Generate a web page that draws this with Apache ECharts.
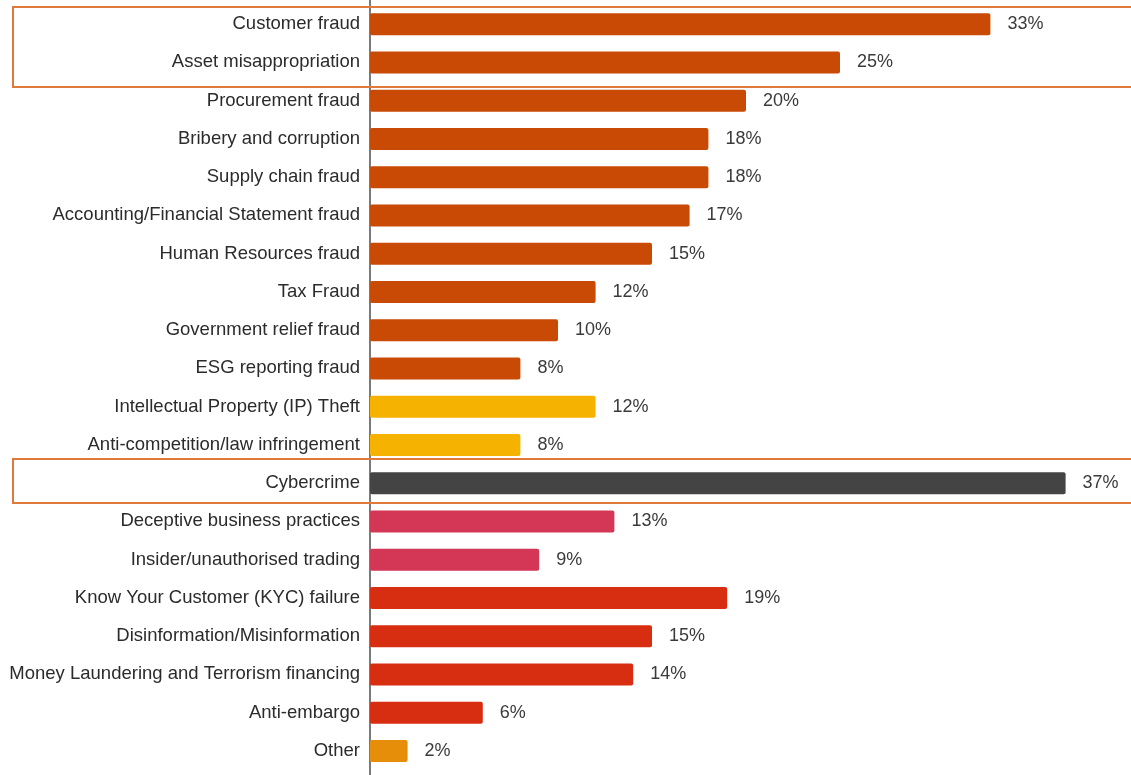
<!DOCTYPE html>
<html>
<head>
<meta charset="utf-8">
<script src="https://cdn.jsdelivr.net/npm/echarts@6/dist/echarts.min.js"></script>
<style>
  html, body { margin: 0; padding: 0; background: #fff; }
  #chart { width: 1131px; height: 775px; }
</style>
</head>
<body>
<div id="chart"></div>
<script>
const categories = [
  'Customer fraud', 'Asset misappropriation', 'Procurement fraud', 'Bribery and corruption',
  'Supply chain fraud', 'Accounting/Financial Statement fraud', 'Human Resources fraud',
  'Tax Fraud', 'Government relief fraud', 'ESG reporting fraud',
  'Intellectual Property (IP) Theft', 'Anti-competition/law infringement', 'Cybercrime',
  'Deceptive business practices', 'Insider/unauthorised trading',
  'Know Your Customer (KYC) failure', 'Disinformation/Misinformation',
  'Money Laundering and Terrorism financing', 'Anti-embargo', 'Other'
];
const values = [33, 25, 20, 18, 18, 17, 15, 12, 10, 8, 12, 8, 37, 13, 9, 19, 15, 14, 6, 2];
const groups = [
  'fraud', 'fraud', 'fraud', 'fraud', 'fraud', 'fraud', 'fraud', 'fraud', 'fraud', 'fraud',
  'ip', 'ip', 'cyber', 'conduct', 'conduct', 'financial', 'financial', 'financial', 'financial', 'other'
];

// colour per group
const groupColors = {
  fraud: '#C94A04',
  ip: '#F5B300',
  cyber: '#444444',
  conduct: '#D43655',
  financial: '#D72E12',
  other: '#E68E0A'
};

const chart = echarts.init(document.getElementById('chart'));

const option = {
  animation: false,
  grid: { left: 370, right: 9, top: 5, bottom: 5, containLabel: false },
  xAxis: {
    type: 'value',
    min: 0,
    max: 40,
    show: false
  },
  yAxis: {
    type: 'category',
    inverse: true,
    data: categories,
    axisLine: { show: true, lineStyle: { color: '#7a7a7a', width: 2 } },
    axisTick: { show: false },
    axisLabel: {
      margin: 10,
      fontFamily: 'Liberation Sans, Arial, sans-serif',
      fontSize: 18.5,
      color: '#2b2b2b'
    }
  },
  series: [
    {
      type: 'bar',
      barWidth: 22,
      data: values.map((v, i) => ({
        value: v,
        itemStyle: { color: groupColors[groups[i]], borderRadius: 2 }
      })),
      label: {
        show: true,
        position: 'right',
        distance: 17,
        formatter: '{c}%',
        fontFamily: 'Liberation Sans, Arial, sans-serif',
        fontSize: 18,
        color: '#3a3a3a',
        textBorderColor: 'rgba(255,255,255,0.9)',
        textBorderWidth: 2
      }
    }
  ],
  graphic: [
    {
      type: 'line',
      shape: { x1: 370, y1: 0, x2: 370, y2: 775 },
      style: { stroke: '#7a7a7a', lineWidth: 2 },
      z: 1
    },
    {
      type: 'rect',
      shape: { x: 13, y: 7, width: 1130, height: 80 },
      style: { fill: 'none', stroke: '#E07A3C', lineWidth: 2 },
      z: 10
    },
    {
      type: 'rect',
      shape: { x: 13, y: 459, width: 1130, height: 44 },
      style: { fill: 'none', stroke: '#E07A3C', lineWidth: 2 },
      z: 10
    }
  ]
};

chart.setOption(option);
</script>
</body>
</html>
